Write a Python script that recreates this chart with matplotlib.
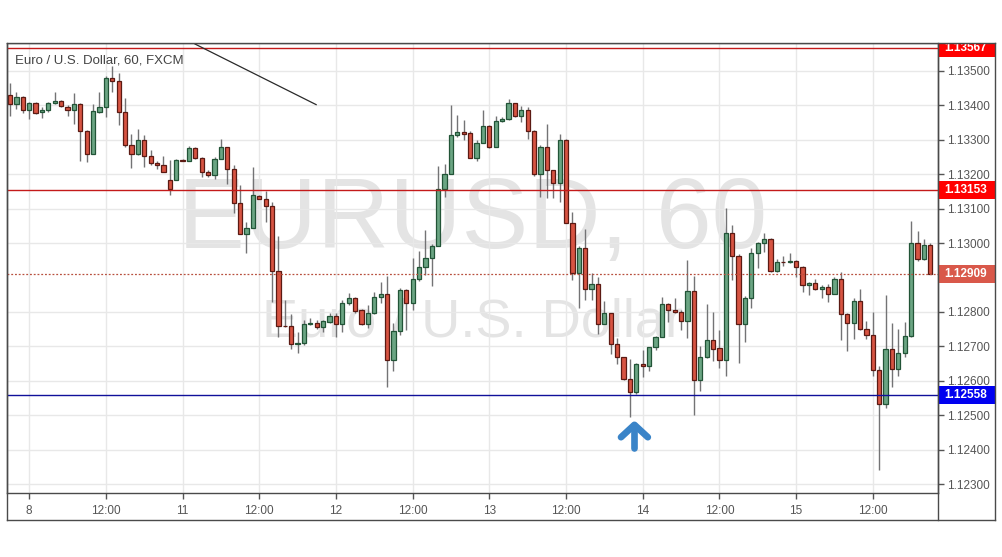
import matplotlib
matplotlib.use("Agg")
import matplotlib.pyplot as plt
from matplotlib.patches import Rectangle
from matplotlib.lines import Line2D
from matplotlib.transforms import blended_transform_factory

plt.rcParams['font.family'] = ['Liberation Sans', 'DejaVu Sans']

# hourly EUR/USD candles, Feb 7 21:00 -> Feb 15 21:00 (weekend gap collapsed)
opens = [
    1.13430, 1.13403, 1.13424, 1.13385, 1.13406, 1.13380, 1.13385, 1.13406, 1.13412, 1.13396,
    1.13385, 1.13403, 1.13326, 1.13258, 1.13382, 1.13396, 1.13479, 1.13472, 1.13380, 1.13284,
    1.13260, 1.13299, 1.13252, 1.13232, 1.13226, 1.13182, 1.13182, 1.13242, 1.13239, 1.13275,
    1.13246, 1.13206, 1.13197, 1.13243, 1.13278, 1.13214, 1.13116, 1.13027, 1.13043, 1.13138,
    1.13127, 1.13107, 1.12918, 1.12760, 1.12760, 1.12706, 1.12709, 1.12764, 1.12767, 1.12757,
    1.12772, 1.12788, 1.12764, 1.12825, 1.12840, 1.12806, 1.12764, 1.12796, 1.12843, 1.12851,
    1.12659, 1.12745, 1.12864, 1.12825, 1.12895, 1.12929, 1.12956, 1.12992, 1.13158, 1.13200,
    1.13313, 1.13322, 1.13319, 1.13246, 1.13290, 1.13340, 1.13280, 1.13354, 1.13361, 1.13406,
    1.13370, 1.13387, 1.13325, 1.13200, 1.13280, 1.13211, 1.13174, 1.13300, 1.13057, 1.12914,
    1.12985, 1.12866, 1.12881, 1.12764, 1.12796, 1.12706, 1.12668, 1.12604, 1.12566, 1.12648,
    1.12644, 1.12697, 1.12726, 1.12822, 1.12806, 1.12801, 1.12775, 1.12862, 1.12602, 1.12668,
    1.12717, 1.12694, 1.12660, 1.13028, 1.12962, 1.12764, 1.12840, 1.12970, 1.12999, 1.13011,
    1.12919, 1.12946, 1.12945, 1.12949, 1.12930, 1.12877, 1.12883, 1.12866, 1.12871, 1.12851,
    1.12895, 1.12794, 1.12767, 1.12833, 1.12750, 1.12733, 1.12631, 1.12533, 1.12692, 1.12633,
    1.12682, 1.12731, 1.13001, 1.12953, 1.12995,
]
highs = [
    1.13464, 1.13440, 1.13426, 1.13411, 1.13411, 1.13394, 1.13411, 1.13438, 1.13416, 1.13401,
    1.13435, 1.13406, 1.13329, 1.13403, 1.13440, 1.13484, 1.13515, 1.13493, 1.13421, 1.13317,
    1.13332, 1.13314, 1.13271, 1.13237, 1.13253, 1.13242, 1.13244, 1.13243, 1.13282, 1.13278,
    1.13251, 1.13212, 1.13251, 1.13301, 1.13280, 1.13227, 1.13169, 1.13062, 1.13220, 1.13140,
    1.13150, 1.13120, 1.13019, 1.12835, 1.12794, 1.12743, 1.12777, 1.12781, 1.12777, 1.12777,
    1.12796, 1.12796, 1.12835, 1.12856, 1.12844, 1.12808, 1.12820, 1.12859, 1.12888, 1.12904,
    1.12767, 1.12869, 1.12866, 1.12956, 1.12977, 1.13038, 1.12997, 1.13224, 1.13230, 1.13401,
    1.13372, 1.13358, 1.13324, 1.13300, 1.13387, 1.13343, 1.13369, 1.13367, 1.13418, 1.13408,
    1.13399, 1.13394, 1.13327, 1.13285, 1.13346, 1.13212, 1.13317, 1.13303, 1.13091, 1.12990,
    1.13041, 1.12912, 1.12900, 1.12832, 1.12798, 1.12723, 1.12670, 1.12662, 1.12651, 1.12689,
    1.12699, 1.12730, 1.12844, 1.12825, 1.12840, 1.12806, 1.12951, 1.12905, 1.12701, 1.12823,
    1.12799, 1.12748, 1.13101, 1.13053, 1.12968, 1.12846, 1.12985, 1.13004, 1.13028, 1.13014,
    1.12953, 1.12962, 1.12970, 1.12951, 1.12932, 1.12888, 1.12895, 1.12878, 1.12881, 1.12902,
    1.12917, 1.12796, 1.12841, 1.12866, 1.12775, 1.12801, 1.12643, 1.12849, 1.12769, 1.12750,
    1.12772, 1.13065, 1.13035, 1.13011, 1.12999,
]
lows = [
    1.13370, 1.13389, 1.13377, 1.13360, 1.13374, 1.13362, 1.13382, 1.13403, 1.13396, 1.13369,
    1.13345, 1.13237, 1.13235, 1.13258, 1.13377, 1.13365, 1.13438, 1.13343, 1.13280, 1.13217,
    1.13256, 1.13222, 1.13227, 1.13214, 1.13206, 1.13139, 1.13182, 1.13237, 1.13237, 1.13243,
    1.13193, 1.13193, 1.13187, 1.13243, 1.13172, 1.13087, 1.13027, 1.12972, 1.13043, 1.13127,
    1.13062, 1.12830, 1.12728, 1.12757, 1.12693, 1.12680, 1.12704, 1.12762, 1.12750, 1.12743,
    1.12767, 1.12728, 1.12743, 1.12820, 1.12798, 1.12762, 1.12752, 1.12794, 1.12825, 1.12581,
    1.12627, 1.12733, 1.12748, 1.12806, 1.12891, 1.12907, 1.12876, 1.12990, 1.13135, 1.13200,
    1.13309, 1.13298, 1.13246, 1.13237, 1.13290, 1.13275, 1.13280, 1.13353, 1.13358, 1.13367,
    1.13351, 1.13301, 1.13196, 1.13135, 1.13130, 1.13130, 1.13120, 1.13057, 1.12893, 1.12812,
    1.12835, 1.12835, 1.12736, 1.12764, 1.12677, 1.12649, 1.12602, 1.12494, 1.12561, 1.12612,
    1.12629, 1.12688, 1.12726, 1.12772, 1.12796, 1.12746, 1.12723, 1.12501, 1.12570, 1.12667,
    1.12658, 1.12638, 1.12615, 1.12893, 1.12651, 1.12712, 1.12812, 1.12927, 1.12975, 1.12917,
    1.12917, 1.12932, 1.12943, 1.12902, 1.12859, 1.12849, 1.12864, 1.12840, 1.12830, 1.12851,
    1.12719, 1.12685, 1.12720, 1.12748, 1.12720, 1.12615, 1.12341, 1.12520, 1.12583, 1.12615,
    1.12670, 1.12726, 1.12948, 1.12951, 1.12909,
]
closes = [
    1.13403, 1.13424, 1.13385, 1.13406, 1.13379, 1.13387, 1.13406, 1.13412, 1.13398, 1.13385,
    1.13403, 1.13326, 1.13258, 1.13384, 1.13396, 1.13479, 1.13472, 1.13380, 1.13284, 1.13260,
    1.13299, 1.13252, 1.13232, 1.13226, 1.13206, 1.13158, 1.13242, 1.13239, 1.13275, 1.13246,
    1.13206, 1.13197, 1.13243, 1.13278, 1.13214, 1.13116, 1.13027, 1.13043, 1.13140, 1.13127,
    1.13107, 1.12918, 1.12760, 1.12758, 1.12706, 1.12709, 1.12764, 1.12767, 1.12757, 1.12774,
    1.12788, 1.12764, 1.12825, 1.12840, 1.12804, 1.12764, 1.12796, 1.12843, 1.12851, 1.12659,
    1.12745, 1.12864, 1.12825, 1.12895, 1.12929, 1.12956, 1.12992, 1.13158, 1.13200, 1.13313,
    1.13322, 1.13318, 1.13246, 1.13290, 1.13340, 1.13280, 1.13354, 1.13361, 1.13406, 1.13370,
    1.13387, 1.13325, 1.13200, 1.13280, 1.13211, 1.13174, 1.13300, 1.13057, 1.12914, 1.12985,
    1.12866, 1.12881, 1.12764, 1.12796, 1.12706, 1.12668, 1.12604, 1.12566, 1.12648, 1.12644,
    1.12697, 1.12726, 1.12822, 1.12806, 1.12801, 1.12775, 1.12862, 1.12602, 1.12668, 1.12717,
    1.12692, 1.12660, 1.13028, 1.12962, 1.12764, 1.12840, 1.12970, 1.12999, 1.13011, 1.12919,
    1.12946, 1.12945, 1.12949, 1.12930, 1.12877, 1.12883, 1.12867, 1.12871, 1.12851, 1.12895,
    1.12794, 1.12767, 1.12833, 1.12750, 1.12733, 1.12631, 1.12533, 1.12692, 1.12633, 1.12682,
    1.12731, 1.13001, 1.12953, 1.12995, 1.12909,
]

tick_pos = [3, 15, 27, 39, 51, 63, 75, 87, 99, 111, 123, 135]
tick_labels = ['8', '12:00', '11', '12:00', '12', '12:00', '13', '12:00', '14', '12:00', '15', '12:00']
price_ticks = [1.123, 1.124, 1.125, 1.126, 1.127, 1.128,
               1.130, 1.131, 1.132, 1.133, 1.134, 1.135]  # 1.129 sits under the last-price box

# horizontal levels: price, line colour, label box colour, style
levels = [
    (1.13567, '#c41a1a', '#ff0000', '-'),
    (1.13153, '#c41a1a', '#ff0000', '-'),
    (1.12909, '#b8503f', '#d9584a', ':'),
    (1.12558, '#10109a', '#0000f0', '-'),
]
trend_x = [28.95, 47.9]
trend_y = [1.13578, 1.13402]
arrow_x = 97.7
arrow_tip = 1.12472

W, H = 1002, 557
fig = plt.figure(figsize=(W / 100, H / 100), dpi=100)
ax = fig.add_axes([7 / W, 64 / H, 931 / W, 450 / H])

ax.set_xlim(-0.47, 145.2)
ax.set_ylim(1.12274, 1.13581)

# watermark
ax.text(0.5, 0.602, 'EURUSD, 60', transform=ax.transAxes, ha='center', va='center',
        fontsize=72, color='#e4e4e4', zorder=0.5)
ax.text(0.5, 0.378, 'Euro / U.S. Dollar', transform=ax.transAxes, ha='center', va='center',
        fontsize=39, color='#e4e4e4', zorder=0.5)

ax.grid(color='#e8e8e8', lw=1, zorder=0.8)
ax.set_axisbelow(True)

# candles
xs = list(range(len(opens)))
ax.vlines(xs, lows, highs, color='#737375', lw=1, zorder=2)
up = [c >= o for o, c in zip(opens, closes)]
bottoms = [min(o, c) for o, c in zip(opens, closes)]
heights = [max(abs(c - o), 0.000012) for o, c in zip(opens, closes)]
ax.bar(xs, heights, bottom=bottoms, width=0.66,
       color=['#6ba583' if u else '#d75442' for u in up],
       edgecolor=['#225437' if u else '#5b1a13' for u in up],
       linewidth=0.9, zorder=3)

# levels and their price labels
bt = blended_transform_factory(ax.transAxes, ax.transData)
box_w = 57 / 931
box_h = 18 / 34420
for price, lc, bc, ls in levels:
    if ls == ':':
        ax.axhline(price, color=lc, lw=0.9, ls=(0, (1.5, 1.5)), zorder=4)
    else:
        ax.axhline(price, color=lc, lw=1, zorder=4)
    ax.add_patch(Rectangle((1.0, price - box_h / 2), box_w, box_h, transform=bt,
                           facecolor=bc, edgecolor='none', clip_on=False, zorder=5))
    ax.text(1.0 + 6 / 931, price, f'{price:.5f}', transform=bt, ha='left', va='center',
            color='white', fontsize=8.5, fontweight='bold', clip_on=False, zorder=6)

ax.plot(trend_x, trend_y, color='#2a2a2a', lw=0.9, zorder=4)

# blue up arrow
arrow_kw = dict(color='#3a84c8', lw=4.8, solid_capstyle='round', solid_joinstyle='round', zorder=6)
ax.plot([arrow_x - 2.1, arrow_x, arrow_x + 2.1],
        [arrow_tip - 0.00036, arrow_tip, arrow_tip - 0.00036], **arrow_kw)
ax.plot([arrow_x, arrow_x], [arrow_tip, arrow_tip - 0.00068], **arrow_kw)

ax.text(8 / 931, 0.962, 'Euro / U.S. Dollar, 60, FXCM', transform=ax.transAxes,
        ha='left', va='center', fontsize=9.5, color='#444444')

# axes
ax.yaxis.tick_right()
ax.set_yticks(price_ticks)
ax.set_yticklabels([f'{p:.5f}' for p in price_ticks])
ax.set_xticks(tick_pos)
ax.set_xticklabels(tick_labels)
ax.tick_params(axis='y', direction='out', length=4, width=1, color='#555555',
               labelsize=8.5, labelcolor='#555555', pad=2.5)
ax.tick_params(axis='x', direction='out', length=4, width=1, color='#555555',
               labelsize=8.5, labelcolor='#555555', pad=5)
for s in ax.spines.values():
    s.set_color('#4a4a4a')
    s.set_linewidth(1)

# clip the region above the chart, then the outer frame
fig.patches.append(Rectangle((0, 1 - 42.5 / H), 1, 42.5 / H, transform=fig.transFigure,
                             facecolor='white', edgecolor='none', zorder=10))


def frame(x0, y0, x1, y1):
    fig.lines.append(Line2D([x0 / W, x1 / W], [1 - y0 / H, 1 - y1 / H], transform=fig.transFigure,
                            color='#4a4a4a', lw=1, zorder=11))


frame(7, 43, 995, 43)
frame(7, 520, 995, 520)
frame(7, 43, 7, 520)
frame(938, 43, 938, 520)
frame(995, 43, 995, 520)

fig.savefig('out.png', dpi=100, facecolor='white')
